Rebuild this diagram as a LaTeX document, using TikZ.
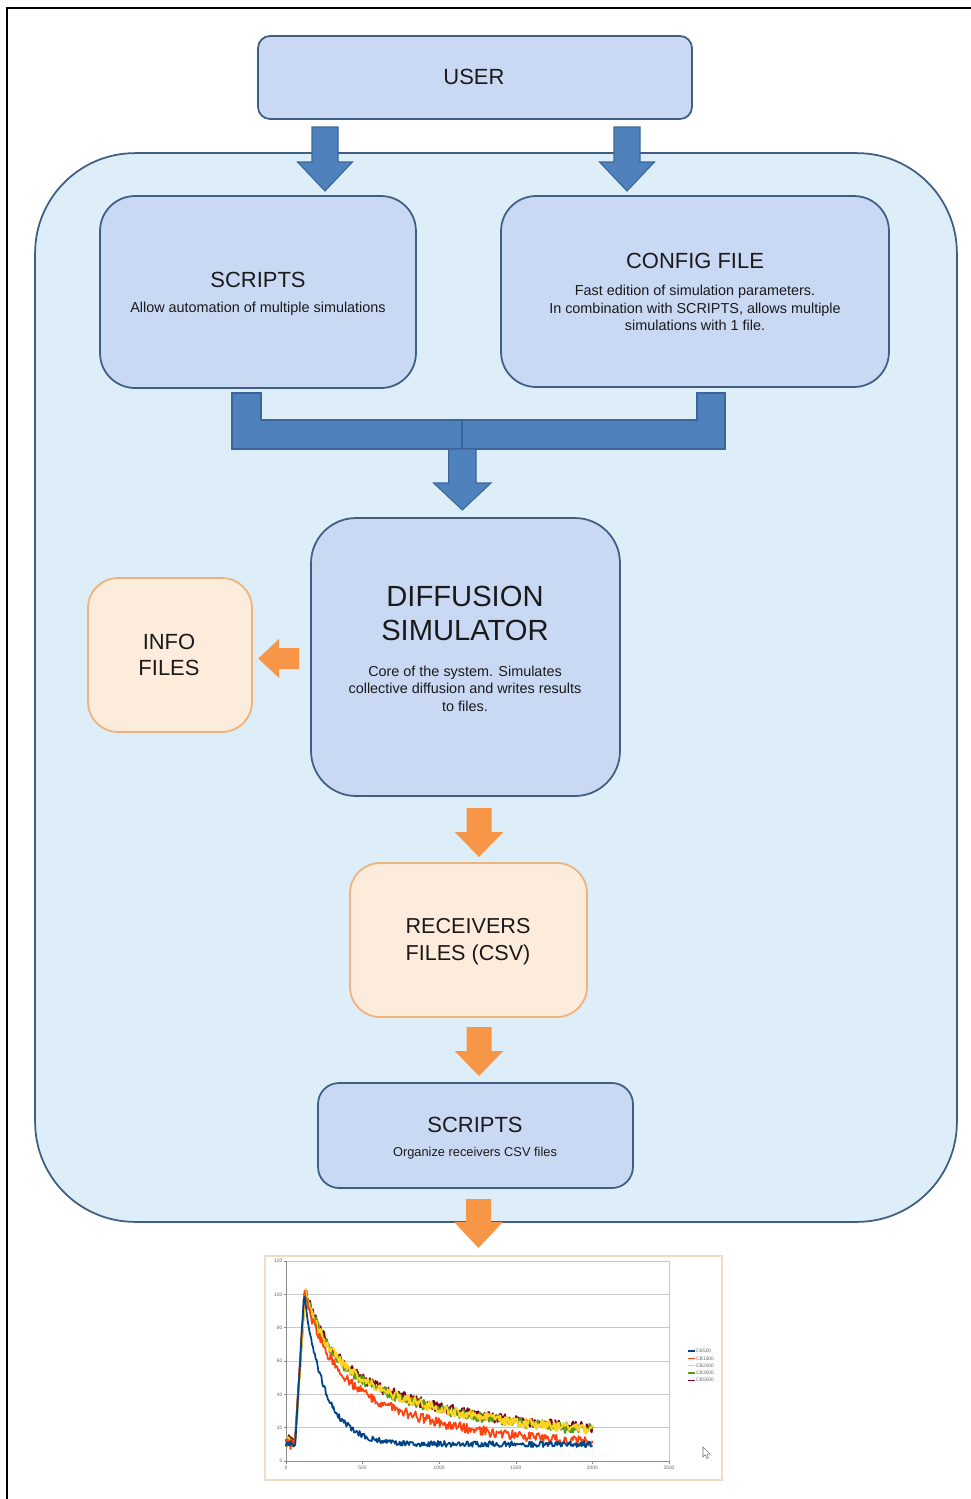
\documentclass[tikz,border=0pt]{standalone}
\usepackage{fontspec}
\setmainfont{Liberation Sans}
\definecolor{boxfill}{HTML}{C9D9F4}
\definecolor{boxline}{HTML}{3F5E82}
\definecolor{contfill}{HTML}{DDEEF9}
\definecolor{ofill}{HTML}{FDEBDC}
\definecolor{oline}{HTML}{EFB27C}
\definecolor{barrowfill}{HTML}{4F81BD}
\definecolor{barrowline}{HTML}{3A6797}
\definecolor{oarrow}{HTML}{F79646}
\definecolor{txt}{HTML}{1A1A1A}
\definecolor{chartframe}{HTML}{F3DCC2}
\definecolor{gridc}{HTML}{C8C8C8}
\definecolor{cbA}{HTML}{004586}
\definecolor{cbB}{HTML}{FF420E}
\definecolor{cbC}{HTML}{FFD320}
\definecolor{cbD}{HTML}{579D1C}
\definecolor{cbE}{HTML}{7E0021}
\newcommand{\DArrow}[7]{%
  \filldraw[#1] ({#2-#6},#3) -- ({#2+#6},#3) -- ({#2+#6},#4) -- ({#2+#7},#4)
    -- (#2,#5) -- ({#2-#7},#4) -- ({#2-#6},#4) -- cycle;}
\begin{document}
\begin{tikzpicture}[x=0.02cm,y=-0.02cm,
  box/.style={draw=boxline, fill=boxfill, line width=1pt, inner sep=0pt},
  obox/.style={draw=oline, fill=ofill, line width=1pt, inner sep=0pt},
  container/.style={draw=boxline, fill=contfill, line width=1pt, inner sep=0pt},
  barrow/.style={fill=barrowfill, draw=barrowline, line width=0.6pt},
  oarr/.style={fill=oarrow, draw=none},
  ttl/.style={font=\fontsize{12.5}{15}\selectfont, text=txt, inner sep=0pt},
  big/.style={font=\fontsize{16.6}{19.3}\selectfont, text=txt, inner sep=0pt, align=center},
  sub/.style={font=\fontsize{8.2}{10}\selectfont, text=txt, inner sep=0pt, align=center},
  ticklab/.style={font=\fontsize{2.8}{3}\selectfont, text=black!60, inner sep=0.5pt},
  leglab/.style={font=\fontsize{2.8}{3}\selectfont, text=black!60, inner sep=0.3pt},
  curve/.style={line width=1pt, line join=round},
  declare function={
    fb(\t) = (\t<60) ? 10 : ((\t<118) ? 10+90*((\t-60)/58) : 10+90*exp(max(-9,-(\t-118)/135)));
    fo(\t) = (\t<60) ? 10 : ((\t<120) ? 10+90*((\t-60)/60) : 8+40*exp(max(-9,-(\t-120)/150))+52*exp(max(-9,-(\t-120)/700)));
    fy(\t) = (\t<60) ? 11 : ((\t<125) ? 11+90*((\t-60)/65) : 13+38*exp(max(-9,-(\t-125)/150))+50*exp(max(-9,-(\t-125)/850)));
  }]
\useasboundingbox (0,0) rectangle (971,1499);
\fill[white] (0,0) rectangle (971,1499);
\draw[line width=1.2pt] (7,1499) -- (7,8) -- (971,8);

% system container
\node[container, minimum width=18.44cm, minimum height=21.38cm, rounded corners=2cm] (sys) at (496,687.5) {};

% USER
\node[box, minimum width=8.68cm, minimum height=1.66cm, rounded corners=0.24cm] (user) at (475,77.5) {};
\node[ttl] (usert) at (474,77) {USER};

% arrows from user
\DArrow{barrow}{325}{127}{162}{191}{13}{27.5}
\DArrow{barrow}{627}{127}{162}{191}{13}{27.5}

% SCRIPTS top
\node[box, minimum width=6.32cm, minimum height=3.84cm, rounded corners=0.7cm] (scripts) at (258,292) {};
\node[ttl] (scriptst) at (258,280) {SCRIPTS};
\node[sub] (scriptss) at (258,309) {Allow automation of multiple simulations};

% CONFIG FILE
\node[box, minimum width=7.76cm, minimum height=3.82cm, rounded corners=0.7cm] (config) at (695,291.5) {};
\node[ttl] (configt) at (695,261) {CONFIG FILE};
\node[sub, font=\fontsize{8.2}{9.9}\selectfont] (configs) at (695,308) {Fast edition of simulation parameters.\\In combination with SCRIPTS, allows multiple\\simulations with 1 file.};

% bracket (two elbow arrows merging)
\filldraw[barrow] (232,393) -- (261,393) -- (261,420) -- (462,420) -- (462,449) -- (232,449) -- cycle;
\filldraw[barrow] (725,393) -- (697,393) -- (697,420) -- (462,420) -- (462,449) -- (725,449) -- cycle;
\DArrow{barrow}{462.3}{449}{483}{510}{13.7}{28.7}

% DIFFUSION SIMULATOR
\node[box, minimum width=6.18cm, minimum height=5.56cm, rounded corners=0.9cm] (diff) at (465.5,657) {};
\node[big] (difft) at (465,613) {DIFFUSION\\SIMULATOR};
\node[sub] (diffs) at (465,688.5) {Core of the system. Simulates\\collective diffusion and writes results\\to files.};

% INFO FILES
\node[obox, minimum width=3.28cm, minimum height=3.08cm, rounded corners=0.6cm] (info) at (170,655) {};
\node[ttl, align=center, font=\fontsize{12.5}{14.8}\selectfont] (infot) at (169,655) {INFO\\FILES};
\fill[oarr] (299,648) -- (299,669) -- (279,669) -- (279,678) -- (258.3,658.5) -- (279,639) -- (279,648) -- cycle;

% RECEIVERS FILES
\DArrow{oarr}{479}{808}{832}{857}{12.5}{24.3}
\node[obox, minimum width=4.74cm, minimum height=3.08cm, rounded corners=0.6cm] (recv) at (468.5,940) {};
\node[ttl, align=center, font=\fontsize{12.3}{15.2}\selectfont] (recvt) at (468,941.5) {RECEIVERS\\FILES (CSV)};

% SCRIPTS bottom
\DArrow{oarr}{479}{1027}{1051}{1076}{12.5}{24.3}
\node[box, minimum width=6.3cm, minimum height=2.1cm, rounded corners=0.42cm] (scripts2) at (475.5,1135.5) {};
\node[ttl] (scripts2t) at (475,1125) {SCRIPTS};
\node[sub, font=\fontsize{7.3}{9}\selectfont] (scripts2s) at (475,1153) {Organize receivers CSV files};

\DArrow{oarr}{478.5}{1199}{1222}{1248}{12.5}{24.3}

% chart
\node[draw=chartframe, line width=1.1pt, fill=white, minimum width=9.14cm, minimum height=4.48cm, inner sep=0pt] (chart) at (493.5,1368) {};
\foreach \v in {20,40,...,120}
  \draw[gridc, line width=0.3pt] (286,{1461-\v*5/3}) -- (669,{1461-\v*5/3});
\draw[gridc, line width=0.35pt] (286,1261) rectangle (669,1461);
\draw[black!45, line width=0.3pt] (286,1261) -- (286,1461) -- (669,1461);
\foreach \v in {0,20,...,120}{
  \draw[black!45, line width=0.25pt] (283.5,{1461-\v*5/3}) -- (286,{1461-\v*5/3});
  \node[ticklab, anchor=east] (yl\v) at (283.5,{1461-\v*5/3}) {\v};
}
\foreach \v in {0,500,...,2500}{
  \draw[black!45, line width=0.25pt] ({286+\v/2500*383},1461) -- ({286+\v/2500*383},1463.5);
  \node[ticklab, anchor=north] (xl\v) at ({286+\v/2500*383},1465) {\v};
}
\begin{scope}[shift={(5.72cm,-29.22cm)}, x=0.003064cm, y=0.0333333cm]
  \pgfmathsetseed{7}
  \draw[curve, cbE] plot[domain=0:2000, samples=330] (\x, {fy(\x)+1.2+3.2*rand});
  \draw[curve, cbD] plot[domain=0:2000, samples=330] (\x, {fy(\x)+0.2+3.2*rand});
  \draw[curve, cbC] plot[domain=0:2000, samples=330] (\x, {fy(\x)+0.4+3.0*rand});
  \draw[curve, cbB] plot[domain=0:2000, samples=330] (\x, {fo(\x)+3.0*rand});
  \draw[curve, cbA] plot[domain=0:2000, samples=330] (\x, {fb(\x)+1.8*rand});
\end{scope}
% legend
\foreach \i/\c/\l in {0/cbA/CB500, 1/cbB/CB1500, 2/cbC/CB2000, 3/cbD/CB3000, 4/cbE/CB5000}{
  \draw[\c, line width=0.8pt] (688,{1351+\i*7.3}) -- (695,{1351+\i*7.3});
  \node[leglab, anchor=west] (leg\i) at (695.3,{1351+\i*7.3}) {\l};
}
% mouse pointer
\filldraw[fill=white, draw=black!55, line width=0.3pt] (703,1447) -- (703,1457) -- (705.3,1454.8) -- (706.8,1458.4) -- (708.4,1457.7) -- (706.9,1454.2) -- (710,1454) -- cycle;
\end{tikzpicture}
\end{document}
